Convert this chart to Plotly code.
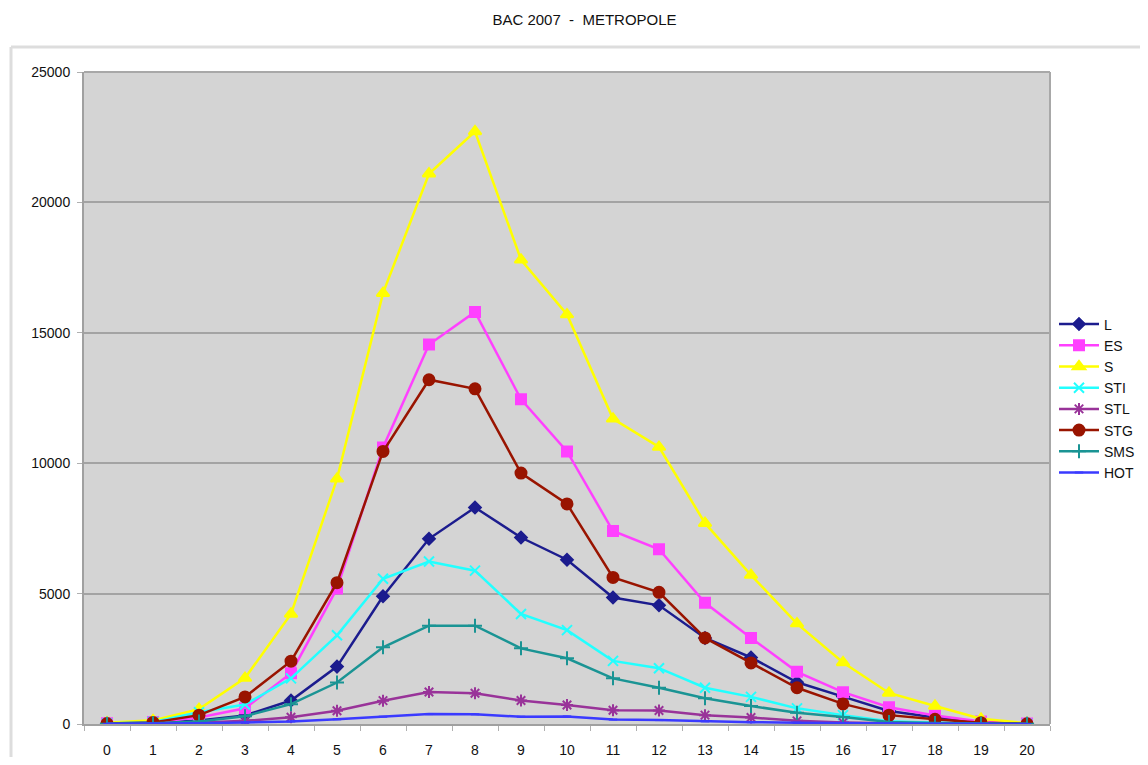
import plotly.graph_objects as go

notes = list(range(21))
L   = [10, 40, 130, 330, 900, 2200, 4900, 7100, 8300, 7150, 6300, 4850, 4550, 3300, 2550, 1600, 1050, 500, 250, 80, 10]
ES  = [30, 80, 250, 600, 1950, 5200, 10600, 14550, 15800, 12450, 10450, 7400, 6700, 4650, 3300, 2000, 1220, 640, 330, 100, 20]
S   = [50, 140, 570, 1760, 4220, 9400, 16520, 21100, 22720, 17800, 15700, 11700, 10620, 7700, 5710, 3850, 2360, 1190, 690, 200, 30]
STI = [20, 80, 450, 750, 1750, 3400, 5570, 6230, 5880, 4220, 3600, 2420, 2140, 1390, 1040, 600, 340, 110, 50, 20, 5]
STL = [5, 20, 50, 120, 260, 510, 895, 1230, 1180, 900, 730, 530, 520, 340, 250, 120, 60, 30, 15, 5, 0]
STG = [20, 60, 340, 1040, 2410, 5420, 10450, 13200, 12850, 9620, 8440, 5620, 5050, 3300, 2340, 1390, 770, 340, 180, 50, 10]
SMS = [10, 30, 100, 300, 760, 1590, 2940, 3770, 3770, 2900, 2520, 1750, 1390, 990, 690, 430, 270, 80, 40, 10, 5]
HOT = [5, 10, 30, 60, 100, 180, 280, 380, 370, 280, 290, 170, 150, 100, 70, 50, 30, 15, 10, 5, 0]

y_ticks = [0, 5000, 10000, 15000, 20000, 25000]
y_tick_labels = ["0", "5000", "10000", "15000", "20000", "25000"]

series = [
    ("L", L, "#1c1c8e", "diamond", 9),
    ("ES", ES, "#ff40ff", "square", 10),
    ("S", S, "#ffff00", "triangle-up", 11),
    ("STI", STI, "#22ffff", "x-thin-open", 10),
    ("STL", STL, "#993399", "asterisk-open", 10),
    ("STG", STG, "#991400", "circle", 11),
    ("SMS", SMS, "#1a9494", "cross-thin-open", 10),
    ("HOT", HOT, "#3a3aff", "line-ew-open", 6),
]

fig = go.Figure()
for name, vals, col, sym, sz in series:
    fig.add_trace(go.Scatter(
        x=notes, y=vals, name=name, mode="lines+markers",
        line=dict(color=col, width=2.5),
        marker=dict(symbol=sym, size=sz, color=col, line=dict(color=col, width=2)),
    ))

# page body has an 8px default margin; figure sized so the page is 1148x765
W, H = 1132, 749
ml, mr, mt, mb = 76, 90, 64, 33
pw, ph = W - ml - mr, H - mt - mb
bx = (3 - ml) / pw
by = 1 + (mt - 39) / ph

fig.update_layout(
    width=W, height=H,
    margin=dict(l=ml, r=mr, t=mt, b=mb, autoexpand=False),
    paper_bgcolor="white",
    plot_bgcolor="#d4d4d4",
    font=dict(family="Liberation Sans, Arial, sans-serif", size=13, color="#111"),
    title=dict(text="BAC 2007  -  METROPOLE", x=576.5 / W, xanchor="center",
               xref="container", yref="container",
               y=1 - 12 / H, yanchor="middle", font=dict(size=15, color="#111")),
    showlegend=True,
    legend=dict(xref="container", yref="container",
                x=1046 / W, y=1 - 390.5 / H, xanchor="left", yanchor="middle",
                bgcolor="rgba(0,0,0,0)", font=dict(size=14), tracegroupgap=0,
                itemwidth=40),
    xaxis=dict(range=[-0.5, 20.5], tickmode="array", tickvals=notes,
               ticktext=[str(n) for n in notes], showgrid=False, zeroline=False,
               showline=True, linecolor="#a0a0a0", linewidth=2, ticks="",
               ticklabelstandoff=12, tickfont=dict(size=14), automargin=False,
               minor=dict(ticks="outside", tick0=0.5, dtick=1, ticklen=5,
                          tickcolor="#b0b0b0", tickwidth=1, showgrid=False),
               fixedrange=True),
    yaxis=dict(range=[0, 25000], tickmode="array",
               tickvals=y_ticks, ticktext=y_tick_labels,
               showgrid=True, gridcolor="#a3a3a3", gridwidth=1.5, zeroline=False,
               showline=True, linecolor="#a0a0a0", linewidth=2,
               ticks="outside", ticklen=5, tickcolor="#b0b0b0",
               ticklabelstandoff=4, tickfont=dict(size=14), automargin=False,
               fixedrange=True),
    shapes=[
        dict(type="line", xref="paper", yref="paper", x0=bx, x1=1.3,
             y0=by, y1=by, line=dict(color="#dddddd", width=3)),
        dict(type="line", xref="paper", yref="paper", x0=bx, x1=bx,
             y0=by, y1=-0.2, line=dict(color="#dddddd", width=3)),
        dict(type="line", xref="paper", yref="paper", x0=0, x1=1,
             y0=1, y1=1, line=dict(color="#a8a8a8", width=2)),
        dict(type="line", xref="paper", yref="paper", x0=1, x1=1,
             y0=0, y1=1, line=dict(color="#a8a8a8", width=2)),
    ],
)

fig.write_html("out.html")
